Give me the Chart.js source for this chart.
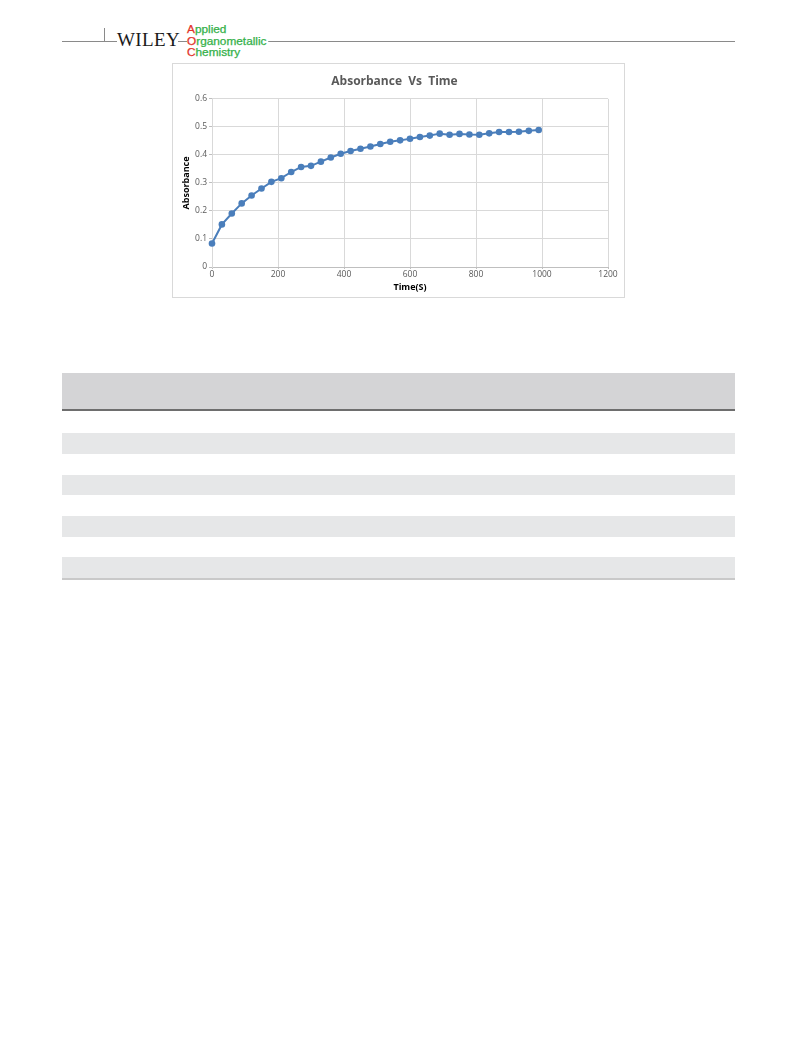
<!DOCTYPE html>
<html>
<head>
<meta charset="utf-8">
<script src="https://cdn.jsdelivr.net/npm/chart.js@4/dist/chart.umd.min.js"></script>
<style>
  html, body { margin: 0; padding: 0; background: #fff; }
  body { width: 793px; height: 1043px; position: relative; overflow: hidden; font-family: "Open Sans", sans-serif; }
  .rule { position: absolute; background: #8a8a8a; height: 1px; }
  .tick { position: absolute; background: #8a8a8a; width: 1px; }
  .wiley { position: absolute; left: 117px; top: 30px; font-family: "Liberation Serif", serif; font-size: 19px; letter-spacing: 0.4px; color: #1a1a1a; line-height: 19px; }
  .jline { position: absolute; left: 187px; font-family: "Liberation Sans", sans-serif; font-size: 10.2px; line-height: 11.4px; height: 11.4px;
           color: #35b14a; background: #fff; padding-right: 1px; transform: scaleX(1.16); transform-origin: 0 0; white-space: nowrap;
           -webkit-text-stroke: 0.25px currentColor; }
  .jline span { color: #e3342a; }
  .chartbox { position: absolute; left: 172px; top: 63px; width: 451px; height: 233px; border: 1px solid #d9d9d9; }
  .band { position: absolute; left: 62px; width: 673px; }
</style>
</head>
<body>
  <!-- running head -->
  <div class="rule" style="left:62px; top:41px; width:55px;"></div>
  <div class="tick" style="left:104px; top:28px; height:14px;"></div>
  <div class="wiley">WILEY</div>
  <div class="rule" style="left:178px; top:41px; width:9px;"></div>
  <div class="rule" style="left:268px; top:41px; width:467px;"></div>
  <div class="jline" style="top:24.4px;"><span>A</span>pplied</div>
  <div class="jline" style="top:35.8px;"><span>O</span>rganometallic</div>
  <div class="jline" style="top:47.2px;"><span>C</span>hemistry</div>

  <!-- figure -->
  <div class="chartbox"><canvas id="c" width="451" height="233"></canvas></div>

  <!-- table bands -->
  <div class="band" style="top:373px; height:36px; background:#d4d4d6;"></div>
  <div class="band" style="top:409px; height:1.5px; background:#6e6e6e;"></div>
  <div class="band" style="top:433px; height:21px; background:#e6e7e8;"></div>
  <div class="band" style="top:475px; height:20px; background:#e6e7e8;"></div>
  <div class="band" style="top:516px; height:21px; background:#e6e7e8;"></div>
  <div class="band" style="top:557px; height:21px; background:#e6e7e8;"></div>
  <div class="band" style="top:578px; height:1.5px; background:#c9c9c9;"></div>

<script>
// Sampling times (s) and measured absorbance
const timeS = [0, 30, 60, 90, 120, 150, 180, 210, 240, 270, 300, 330, 360, 390, 420, 450, 480,
               510, 540, 570, 600, 630, 660, 690, 720, 750, 780, 810, 840, 870, 900, 930, 960, 990];
const absorbance = [0.084, 0.152, 0.191, 0.227, 0.255, 0.280, 0.304, 0.317, 0.339, 0.357, 0.361,
                    0.376, 0.391, 0.404, 0.414, 0.422, 0.430, 0.439, 0.447, 0.452, 0.458, 0.464,
                    0.469, 0.476, 0.472, 0.475, 0.473, 0.472, 0.477, 0.482, 0.482, 0.483, 0.486, 0.489];
const xTicks = [0, 200, 400, 600, 800, 1000, 1200];
const yTicks = [0, 0.1, 0.2, 0.3, 0.4, 0.5, 0.6];
const chartTitle = 'Absorbance  Vs  Time';
const xTitle = 'Time(S)';
const yTitle = 'Absorbance';

const points = timeS.map((t, i) => ({ x: t, y: absorbance[i] }));
const tickFont = { family: 'Open Sans', size: 8.5 };
const axisTitleFont = { family: 'Open Sans', size: 9, weight: 'bold' };

new Chart(document.getElementById('c'), {
  type: 'line',
  data: {
    datasets: [{
      data: points,
      borderColor: '#4a7ebb',
      backgroundColor: '#4a7ebb',
      borderWidth: 2,
      pointRadius: 3.3,
      pointBorderWidth: 0,
      tension: 0,
      fill: false,
      clip: false
    }]
  },
  options: {
    responsive: false,
    animation: false,
    events: [],
    layout: { padding: { left: 8, right: 16, top: 0, bottom: 4 } },
    plugins: {
      legend: { display: false },
      tooltip: { enabled: false },
      title: {
        display: true,
        text: chartTitle,
        color: '#595959',
        font: { family: 'Open Sans', size: 12, weight: 'bold' },
        padding: { top: 10, bottom: 10.5 }
      }
    },
    scales: {
      x: {
        type: 'linear',
        min: xTicks[0],
        max: xTicks[xTicks.length - 1],
        afterBuildTicks: s => { s.ticks = xTicks.map(v => ({ value: v })); },
        afterFit: s => { s.height = 26; },
        ticks: { color: '#595959', font: tickFont, padding: 0, maxRotation: 0, callback: v => String(v) },
        grid: { color: '#d9d9d9', lineWidth: 1, tickLength: 2, tickColor: '#bfbfbf' },
        border: { color: '#bfbfbf' },
        title: { display: true, text: xTitle, color: '#000', font: axisTitleFont, padding: { top: 0, bottom: 0 } }
      },
      y: {
        min: yTicks[0],
        max: yTicks[yTicks.length - 1],
        afterBuildTicks: s => { s.ticks = yTicks.map(v => ({ value: v })); },
        afterFit: s => { s.width = 31; },
        ticks: { color: '#595959', font: tickFont, padding: 2, callback: v => String(+v.toFixed(1)) },
        grid: { color: '#d9d9d9', lineWidth: 1, tickLength: 3, tickColor: '#bfbfbf' },
        border: { color: '#d9d9d9' },
        title: { display: true, text: yTitle, color: '#000', font: axisTitleFont, padding: { top: 0, bottom: 2 } }
      }
    }
  }
});
</script>
</body>
</html>
